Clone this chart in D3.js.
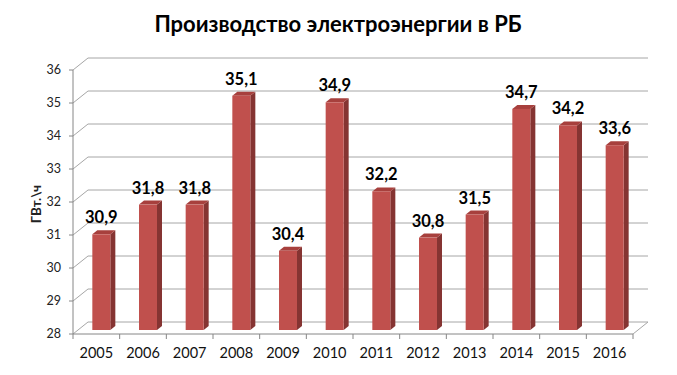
<!DOCTYPE html>
<html>
<head>
<meta charset="utf-8">
<script src="https://cdn.jsdelivr.net/npm/d3@7"></script>
<style>
    body { margin: 0; background: #fff; }
    svg { display: block; font-family: Lato, "Open Sans", sans-serif; }
    .grid line { stroke: #a6a6a6; stroke-width: 1; }
    .axis-line { stroke: #868686; stroke-width: 1; }
    .ytick text { font-size: 12.5px; fill: #222; }
    .xtick text { font-size: 14.5px; fill: #111; }
    .value-label { font-size: 16.5px; font-weight: bold; fill: #000; }
</style>
</head>
<body>
<div id="chart"></div>
<script>
// Data
const years  = ["2005","2006","2007","2008","2009","2010","2011","2012","2013","2014","2015","2016"];
const values = [30.9, 31.8, 31.8, 35.1, 30.4, 34.9, 32.2, 30.8, 31.5, 34.7, 34.2, 33.6];
const labels = ["30,9","31,8","31,8","35,1","30,4","34,9","32,2","30,8","31,5","34,7","34,2","33,6"];
const yTicks = [28, 29, 30, 31, 32, 33, 34, 35, 36];

const title  = "Производство электроэнергии в РБ";
const yTitle = "ГВт.\\ч";

const W = 677, H = 375;

// Plot geometry (front plane + depth of the 3D box)
const plot = {left: 73, right: 633, top: 70, bottom: 334};
const depth = {dx: 15, dy: -12};
const bar = {width: 18, offX: 5, offY: -4, dx: 5, dy: -4};
const colors = {front: "#c0504d", side: "#853432", top: "#a7403d"};

const svg = d3.select("#chart").append("svg")
    .attr("width", W)
    .attr("height", H);

const x = d3.scaleBand().domain(years).range([plot.left, plot.right]).padding(0);
const y = d3.scaleLinear().domain([28, 36]).range([plot.bottom, plot.top]);

// Title
svg.append("text")
    .attr("x", 338).attr("y", 32)
    .attr("text-anchor", "middle")
    .style("font-size", "22px")
    .style("font-weight", "bold")
    .style("fill", "#000")
    .text(title);

// Gridlines: diagonal on the side wall, then along the back wall
const grid = svg.append("g").attr("class", "grid");
yTicks.forEach(function(t) {
    let yy = y(t);
    grid.append("line")
        .attr("x1", plot.left).attr("y1", yy)
        .attr("x2", plot.left + depth.dx).attr("y2", yy + depth.dy);
    grid.append("line")
        .attr("x1", plot.left + depth.dx).attr("y1", yy + depth.dy)
        .attr("x2", plot.right + depth.dx).attr("y2", yy + depth.dy);
});

// Floor right edge
grid.append("line")
    .attr("x1", plot.right).attr("y1", plot.bottom)
    .attr("x2", plot.right + depth.dx).attr("y2", plot.bottom + depth.dy);

// Bars
const bars = svg.append("g").attr("class", "bars");
years.forEach(function(yr, i) {
    let xl = x(yr) + (x.bandwidth() - bar.width) / 2 + bar.offX;
    let xr = xl + bar.width;
    let yb = y(28) + bar.offY;
    let yt = y(values[i]) + bar.offY;
    let g = bars.append("g");

    // side face
    g.append("polygon")
        .attr("points", [[xr, yt], [xr + bar.dx, yt + bar.dy], [xr + bar.dx, yb + bar.dy], [xr, yb]].join(" "))
        .attr("fill", colors.side);
    // top face
    g.append("polygon")
        .attr("points", [[xl, yt], [xl + bar.dx, yt + bar.dy], [xr + bar.dx, yt + bar.dy], [xr, yt]].join(" "))
        .attr("fill", colors.top);
    // front face
    g.append("rect")
        .attr("x", xl).attr("y", yt)
        .attr("width", bar.width).attr("height", yb - yt)
        .attr("fill", colors.front);

    // value label
    svg.append("text")
        .attr("class", "value-label")
        .attr("x", (xl + xr) / 2)
        .attr("y", yt + bar.dy - 7)
        .attr("text-anchor", "middle")
        .text(labels[i]);
});

// Axes lines
svg.append("line").attr("class", "axis-line")
    .attr("x1", plot.left).attr("y1", plot.top)
    .attr("x2", plot.left).attr("y2", plot.bottom);
svg.append("line").attr("class", "axis-line")
    .attr("x1", plot.left).attr("y1", plot.bottom)
    .attr("x2", plot.right).attr("y2", plot.bottom);

// Y ticks
const yt = svg.append("g").attr("class", "ytick");
yTicks.forEach(function(t) {
    yt.append("line").attr("class", "axis-line")
        .attr("x1", plot.left - 4).attr("x2", plot.left)
        .attr("y1", y(t)).attr("y2", y(t));
    yt.append("text")
        .attr("x", plot.left - 12)
        .attr("y", y(t))
        .attr("dy", "0.35em")
        .attr("text-anchor", "end")
        .text(t);
});

// X ticks at category boundaries
const xt = svg.append("g").attr("class", "xtick");
years.forEach(function(yr, i) {
    let bx = x(yr);
    xt.append("line").attr("class", "axis-line")
        .attr("x1", bx).attr("x2", bx)
        .attr("y1", plot.bottom).attr("y2", plot.bottom + 5);
    xt.append("text")
        .attr("x", bx + x.bandwidth() / 2)
        .attr("y", 358)
        .attr("text-anchor", "middle")
        .text(yr);
});
xt.append("line").attr("class", "axis-line")
    .attr("x1", plot.right).attr("x2", plot.right)
    .attr("y1", plot.bottom).attr("y2", plot.bottom + 5);

// Y axis title
svg.append("text")
    .attr("transform", "translate(41," + ((plot.top + plot.bottom) / 2 + 2) + ") rotate(-90)")
    .attr("text-anchor", "middle")
    .style("font-size", "13.5px")
    .style("font-weight", "bold")
    .style("fill", "#222")
    .text(yTitle);
</script>
</body>
</html>
